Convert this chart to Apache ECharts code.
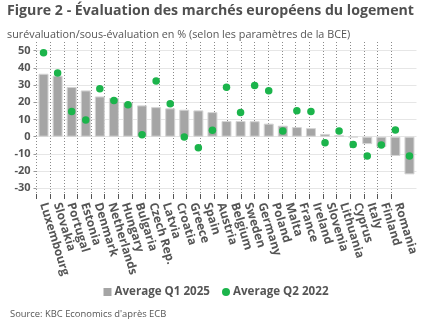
<!DOCTYPE html>
<html>
<head>
<meta charset="utf-8">
<script src="https://cdn.jsdelivr.net/npm/echarts@6/dist/echarts.min.js"></script>
<style>
html,body{margin:0;padding:0;background:#fff;overflow:hidden;}
#c{width:432px;height:334px;}
</style>
</head>
<body>
<div id="c"></div>
<script>
var countries = ['Luxembourg','Slovakia','Portugal','Estonia','Denmark','Netherlands','Hungary','Bulgaria','Czech Rep.','Latvia','Croatia','Greece','Spain','Austria','Belgium','Sweden','Germany','Poland','Malta','France','Ireland','Slovenia','Lithuania','Cyprus','Italy','Finland','Romania'];
var q12025 = [36.6,35.5,28.9,26.9,23.4,22.5,19.8,18.2,17.2,16.5,15.7,15.3,14.3,9.1,9.1,9.0,7.6,6.4,5.6,5.0,1.6,0.8,-0.3,-4.3,-6.0,-11.2,-21.9];
var q22022 = [48.8,37.0,14.7,9.7,27.9,21.1,18.6,1.2,32.4,19.2,-0.2,-6.4,3.7,28.7,14.0,29.8,26.7,3.3,15.1,14.7,-3.5,3.3,-4.5,-11.2,-4.8,3.9,-11.2];
var yTicks = {min:-30, max:50, interval:10};
var titleText = 'Figure 2 - Évaluation des marchés européens du logement';

var FONT = 'Open Sans';
var TXT = '#555555';
var W = 432;
var gLeft = 36.5, gRight = 15.5;
var band = (W - gLeft - gRight) / countries.length;
// overlay axis: two extra blank slots so the closing boundary line falls outside the view
var overlayCats = countries.concat(['', '']);
var overlayRight = W - (gLeft + band * overlayCats.length);

var titleFont = 'bold 15px "' + FONT + '"';
var ctx = document.createElement('canvas').getContext('2d');
ctx.font = titleFont;
var titleScale = 407 / ctx.measureText(titleText).width;
if (titleScale > 1) titleScale = 1;

var chart = echarts.init(document.getElementById('c'), null, {renderer:'canvas'});
chart.setOption({
  animation:false,
  textStyle:{fontFamily:FONT},
  graphic:[
    {type:'text', left:7, top:3, scaleX:titleScale, originX:0,
     style:{text:titleText, font:titleFont, fill:'#505050'}}
  ],
  title:[
    {text:'surévaluation/sous-évaluation en % (selon les paramètres de la BCE)', left:7, top:29, padding:0,
     textStyle:{fontFamily:FONT, fontSize:10.8, fontWeight:'normal', color:TXT}},
    {text:'Source: KBC Economics d\'après ECB', left:10, top:310, padding:0,
     textStyle:{fontFamily:FONT, fontSize:9.4, fontWeight:'normal', color:TXT}}
  ],
  legend:{
    left:'center', top:281, itemWidth:8, itemHeight:8, itemGap:12,
    itemStyle:{borderWidth:0},
    textStyle:{fontFamily:FONT, fontSize:11.6, fontWeight:'bold', color:TXT, padding:[0,0,0,-2]},
    data:[{name:'Average Q1 2025', icon:'rect'},{name:'Average Q2 2022', icon:'circle'}]
  },
  grid:[
    {left:gLeft, right:gRight, top:50.7, bottom:334-188.3},
    {left:gLeft, right:overlayRight, top:42, bottom:334-194}
  ],
  xAxis:[
    {type:'category', gridIndex:0, data:countries, show:false},
    {type:'category', gridIndex:1, data:overlayCats, position:'bottom',
     axisLine:{show:false},
     axisTick:{show:true, length:5, interval:function(i){return i < countries.length;}, lineStyle:{color:'#555', width:1}},
     splitLine:{show:true, interval:function(i){return i < countries.length;}, lineStyle:{color:'#8a8a8a', width:1, type:[1,2]}},
     axisLabel:{rotate:-73, margin:9, fontFamily:FONT, fontSize:12, fontWeight:'bold', color:TXT, interval:0}}
  ],
  yAxis:[
    {type:'value', gridIndex:0, min:yTicks.min, max:yTicks.max, interval:yTicks.interval,
     axisLine:{show:false},
     axisTick:{show:true, length:3, lineStyle:{color:'#999'}},
     splitLine:{show:true, lineStyle:{color:'#e6e6e6', width:1}},
     axisLabel:{margin:6, fontFamily:FONT, fontSize:11, fontWeight:'bold', color:TXT}},
    {type:'value', gridIndex:1, show:false, min:0, max:1}
  ],
  series:[
    {name:'Average Q1 2025', type:'bar', xAxisIndex:0, yAxisIndex:0, data:q12025, barWidth:10,
     itemStyle:{color:'#a5a5a5', borderColor:'#d4d4d4', borderWidth:1}, z:2},
    {name:'Average Q2 2022', type:'scatter', xAxisIndex:0, yAxisIndex:0, data:q22022, symbolSize:7.5,
     itemStyle:{color:'#1bb44b', opacity:1}, z:3}
  ]
});
</script>
</body>
</html>
